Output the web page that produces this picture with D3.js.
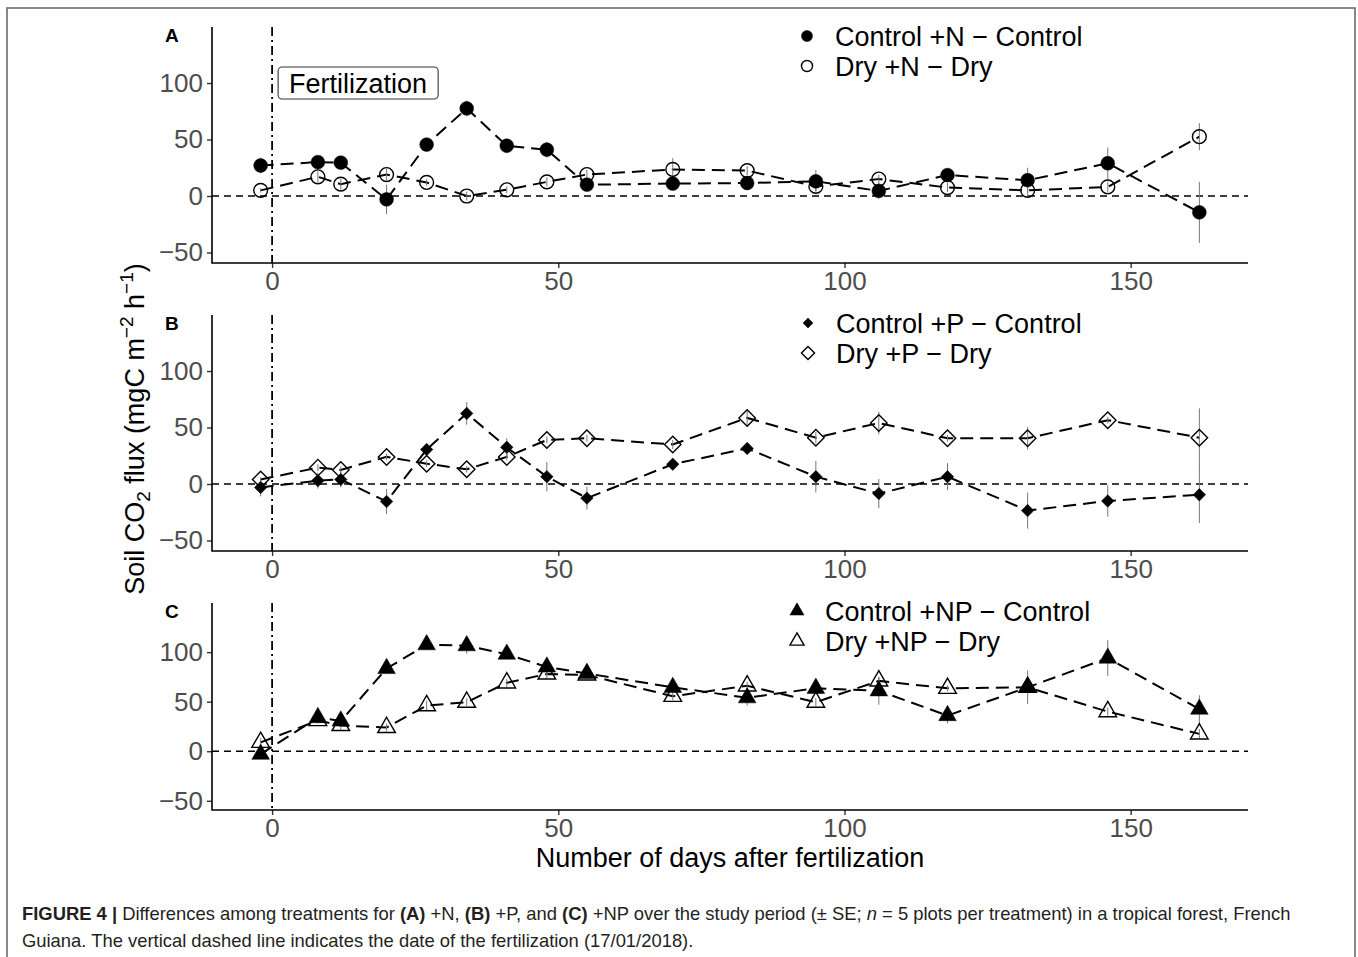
<!DOCTYPE html>
<html>
<head>
<meta charset="utf-8">
<script src="https://cdn.jsdelivr.net/npm/d3@7"></script>
<style>
  body { margin: 0; background: #fff; }
  svg { display: block; font-family: "Liberation Sans", Arial, sans-serif; }
</style>
</head>
<body>
<svg id="chart" width="1358" height="957"></svg>
<script>
/* global d3 */

// sampling days, relative to fertilization
let days = [-2, 8, 12, 20, 27, 34, 41, 48, 55, 70, 83, 95, 106, 118, 132, 146, 162];

// panel A : +N
let ctrlN = [27, 30, 29.5, -3, 45.5, 77.5, 44.5, 41, 10, 11, 11.5, 13, 4.5, 18.5, 14, 29, -14.5];
let ctrlNSe = [7, 5, 3, 13, 5, 7, 5, 7, 3, 3, 3, 10, 7, 6, 11, 14, 27];
let dryN = [5, 17, 10.5, 19, 12, 0, 5.5, 12.5, 19, 23.5, 22.5, 8.5, 15, 7.5, 5, 8, 52.5];
let dryNSe = [2, 5, 5, 5, 3, 4, 3, 4, 4, 10, 4, 4, 4, 4, 6, 5, 12];

// panel B : +P
let ctrlP = [-3, 3, 4, -15.5, 30.5, 62.5, 32.5, 6.5, -12.5, 17.5, 31.5, 6.5, -8.5, 6.5, -23.5, -15, -9.5];
let ctrlPSe = [8, 7, 7, 11, 4, 10, 8, 13, 10, 4, 3, 14, 13, 12, 16, 14, 25];
let dryP = [4, 14.5, 12.5, 24, 18, 13, 24, 39, 40.5, 35, 58.5, 41, 54, 40.5, 40.5, 56.5, 41];
let dryPSe = [2, 3, 3, 3, 3, 3, 3, 3, 3, 4, 6, 5, 10, 3, 10, 3, 26];

// panel C : +NP
let ctrlNP = [-3, 34, 30.5, 83.5, 107.5, 106.5, 98, 85, 78.5, 64.5, 54, 63.5, 61, 36, 64.5, 94, 42.5];
let ctrlNPSe = [5, 4, 3, 4, 4, 8, 5, 8, 4, 3, 8, 4, 14, 8, 17, 18, 14];
let dryNP = [9, 31, 26, 24, 46, 49.5, 69, 78, 77, 55.5, 66, 49.5, 71, 63.5, 64.5, 40, 17.5];
let dryNPSe = [4, 3, 5, 4, 5, 4, 4, 5, 4, 4, 4, 4, 4, 3, 4, 4, 5];

let xTicks = [0, 50, 100, 150];
let yTicks = [-50, 0, 50, 100];

let legendNames = [
  ['Control +N \u2212 Control', 'Dry +N \u2212 Dry'],
  ['Control +P \u2212 Control', 'Dry +P \u2212 Dry'],
  ['Control +NP \u2212 Control', 'Dry +NP \u2212 Dry']
];

let svg = d3.select('#chart');

svg.append('rect')
  .attr('x', 7).attr('y', 8)
  .attr('width', 1348).attr('height', 980)
  .attr('fill', '#fff')
  .attr('stroke', '#6b6b6b')
  .attr('stroke-width', 1.6);

let x = d3.scaleLinear().domain([-10.5, 170.5]).range([212, 1248]);

let panels = [
  {label: 'A', top: 27, bottom: 263, ctrl: ctrlN, ctrlSe: ctrlNSe, dry: dryN, drySe: dryNSe,
    shape: 'circle', names: legendNames[0], legX: 807, legY: 36},
  {label: 'B', top: 315, bottom: 551, ctrl: ctrlP, ctrlSe: ctrlPSe, dry: dryP, drySe: dryPSe,
    shape: 'diamond', names: legendNames[1], legX: 808, legY: 323},
  {label: 'C', top: 603, bottom: 810, ctrl: ctrlNP, ctrlSe: ctrlNPSe, dry: dryNP, drySe: dryNPSe,
    shape: 'triangle', names: legendNames[2], legX: 797, legY: 611}
];

// point symbol for a panel, filled or open
function symbolPath(shape, filled, scale) {
  let s = scale || 1;
  if (shape === 'circle') {
    return d3.symbol().type(d3.symbolCircle).size(150 * s * s)();
  }
  if (shape === 'diamond') {
    return d3.symbol().type(d3.symbolSquare).size((filled ? 78 : 136) * s * s)();
  }
  return d3.symbol().type(d3.symbolTriangle).size(135 * s * s)();
}

function drawSymbols(g, shape, filled, pts, scale) {
  g.selectAll(null).data(pts).enter().append('path')
    .attr('d', symbolPath(shape, filled, scale))
    .attr('transform', (d) => `translate(${d[0]},${d[1]})` + (shape === 'diamond' ? ' rotate(45)' : ''))
    .attr('fill', filled ? '#000' : 'none')
    .attr('stroke', '#000')
    .attr('stroke-width', filled ? 0.5 : 1.4);
}

panels.forEach((p) => {
  let y = d3.scaleLinear().domain([-59.3, 149.6]).range([p.bottom, p.top]);
  let g = svg.append('g');

  // zero line and fertilization date
  g.append('line')
    .attr('x1', 212).attr('x2', 1248)
    .attr('y1', y(0)).attr('y2', y(0))
    .attr('stroke', '#000').attr('stroke-width', 1.6)
    .attr('stroke-dasharray', '7,5');
  g.append('line')
    .attr('x1', x(0)).attr('x2', x(0))
    .attr('y1', p.top).attr('y2', p.bottom)
    .attr('stroke', '#000').attr('stroke-width', 1.8)
    .attr('stroke-dasharray', '9,4,2,4');

  let line = d3.line()
    .x((d, i) => x(days[i]))
    .y((d) => y(d));

  [p.ctrl, p.dry].forEach((vals) => {
    g.append('path')
      .attr('d', line(vals))
      .attr('fill', 'none')
      .attr('stroke', '#000')
      .attr('stroke-width', 2)
      .attr('stroke-dasharray', '13,7');
  });

  // error bars (± SE)
  [[p.ctrl, p.ctrlSe], [p.dry, p.drySe]].forEach((pair) => {
    g.selectAll(null).data(days).enter().append('line')
      .attr('x1', (d) => x(d)).attr('x2', (d) => x(d))
      .attr('y1', (d, i) => y(pair[0][i] - pair[1][i]))
      .attr('y2', (d, i) => y(pair[0][i] + pair[1][i]))
      .attr('stroke', '#777')
      .attr('stroke-width', 1);
  });

  drawSymbols(g, p.shape, true, days.map((d, i) => [x(d), y(p.ctrl[i])]));
  drawSymbols(g, p.shape, false, days.map((d, i) => [x(d), y(p.dry[i])]));

  // axes
  let yAxis = g.append('g')
    .attr('transform', 'translate(212,0)')
    .call(d3.axisLeft(y).tickValues(yTicks).tickSize(5).tickPadding(4));
  let xAxis = g.append('g')
    .attr('transform', `translate(0,${p.bottom})`)
    .call(d3.axisBottom(x).tickValues(xTicks).tickSize(5).tickPadding(4));

  [yAxis, xAxis].forEach((ax) => {
    ax.select('.domain').remove();
    ax.selectAll('line').attr('stroke', '#333').attr('stroke-width', 1.4);
    ax.selectAll('text')
      .attr('fill', '#4d4d4d')
      .style('font-size', '26px')
      .style('font-family', '"Liberation Sans", Arial, sans-serif');
  });

  g.append('path')
    .attr('d', `M212,${p.top}V${p.bottom}H1248`)
    .attr('fill', 'none')
    .attr('stroke', '#000')
    .attr('stroke-width', 1.6);

  g.append('text')
    .attr('x', 165).attr('y', p.top + 15)
    .attr('font-weight', 'bold')
    .attr('font-size', 19)
    .text(p.label);

  // legend
  p.names.forEach((name, k) => {
    let ly = p.legY + k * 30;
    drawSymbols(g, p.shape, k === 0, [[p.legX, ly]], 0.8);
    g.append('text')
      .attr('x', p.legX + 28).attr('y', ly + 9.5)
      .attr('font-size', 27)
      .attr('fill', '#000')
      .text(name);
  });

  if (p.label === 'A') {
    let lab = g.append('g');
    let txt = lab.append('text')
      .attr('x', x(0) + 17).attr('y', y(100) + 9.5)
      .attr('font-size', 27)
      .text('Fertilization');
    let w = txt.node().getComputedTextLength();
    lab.insert('rect', 'text')
      .attr('x', x(0) + 6).attr('y', y(100) - 16)
      .attr('width', w + 22).attr('height', 32)
      .attr('rx', 4)
      .attr('fill', '#fff')
      .attr('stroke', '#333')
      .attr('stroke-width', 1.1);
  }
});

// axis titles
let yTitle = svg.append('text')
  .attr('transform', 'translate(144,429) rotate(-90)')
  .attr('text-anchor', 'middle')
  .attr('font-size', 27);
yTitle.append('tspan').text('Soil CO');
yTitle.append('tspan').attr('font-size', 19).attr('dy', 6).text('2');
yTitle.append('tspan').attr('dy', -6).text(' flux (mgC m');
yTitle.append('tspan').attr('font-size', 19).attr('dy', -11).text('\u22122');
yTitle.append('tspan').attr('dy', 11).text(' h');
yTitle.append('tspan').attr('font-size', 19).attr('dy', -11).text('\u22121');
yTitle.append('tspan').attr('dy', 11).text(')');

svg.append('text')
  .attr('x', 730).attr('y', 867)
  .attr('text-anchor', 'middle')
  .attr('font-size', 27)
  .text('Number of days after fertilization');

// caption
let cap1 = [
  ['FIGURE 4 | ', 'bold'], ['Differences among treatments for ', ''], ['(A)', 'bold'], [' +N, ', ''],
  ['(B)', 'bold'], [' +P, and ', ''], ['(C)', 'bold'],
  [' +NP over the study period (\u00b1 SE; ', ''], ['n', 'italic'],
  [' = 5 plots per treatment) in a tropical forest, French', '']
];
let c1 = svg.append('text')
  .attr('x', 22).attr('y', 920)
  .attr('font-size', 18.4)
  .attr('fill', '#231f20');
cap1.forEach((part) => {
  c1.append('tspan')
    .attr('font-weight', part[1] === 'bold' ? 'bold' : null)
    .attr('font-style', part[1] === 'italic' ? 'italic' : null)
    .text(part[0]);
});
svg.append('text')
  .attr('x', 22).attr('y', 947)
  .attr('font-size', 18.4)
  .attr('fill', '#231f20')
  .text('Guiana. The vertical dashed line indicates the date of the fertilization (17/01/2018).');
</script>
</body>
</html>
